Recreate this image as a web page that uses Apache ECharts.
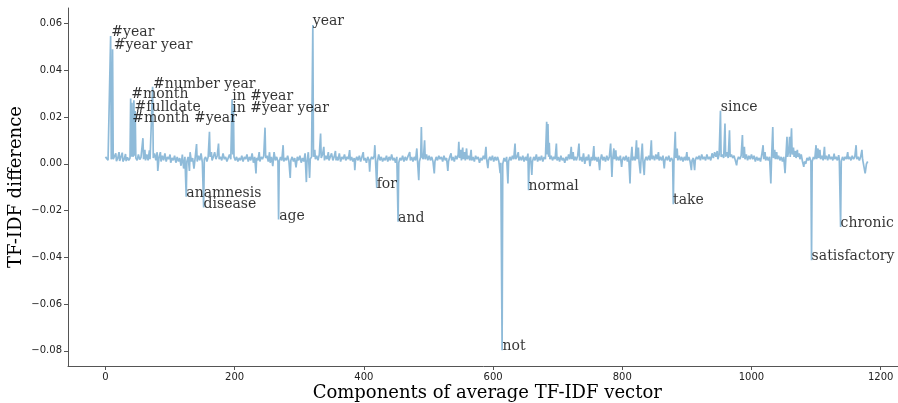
<!DOCTYPE html>
<html>
<head>
<meta charset="utf-8">
<script src="https://cdn.jsdelivr.net/npm/echarts@6/dist/echarts.min.js"></script>
<style>html,body{margin:0;padding:0;background:#fff;}#chart{width:898px;height:403px;}</style>
</head>
<body>
<div id="chart"></div>
<script>
// [component index, TF-IDF difference]
const diffPoints = [
[0,0.0030],[2,0.0022],[4,0.0016],[6,0.0018],[8,0.0547],[9,0.0020],[10,0.0030],[11,0.0490],[12,0.0020],[14,0.0016],[16,0.0045],[17,0.0012],[19,0.0024],[21,0.0050],[22,0.0012],[24,0.0030],[26,0.0048],[27,0.0010],[29,0.0020],[31,0.0042],[32,0.0012],[34,0.0028],[36,0.0015],[38,0.0025],[39,0.0280],[40,0.0030],[41,0.0262],[42,0.0040],[43,0.0030],[44,0.0272],[45,0.0035],[46,0.0226],[47,0.0025],[49,0.0015],[51,0.0040],[53,0.0018],[55,0.0028],[57,0.0020],[58,0.0110],[59,0.0020],[61,0.0060],[62,0.0015],[64,0.0040],[66,0.0015],[68,0.0058],[69,0.0020],[71,0.0028],[73,0.0330],[74,0.0025],[76,0.0045],[78,0.0015],[80,0.0050],[81,-0.0030],[83,0.0030],[85,0.0050],[86,0.0010],[88,0.0035],[90,0.0015],[92,0.0045],[94,0.0010],[96,0.0030],[98,0.0020],[100,0.0040],[101,0.0005],[103,0.0025],[105,0.0015],[107,0.0035],[109,0.0005],[111,0.0030],[113,0.0010],[115,0.0025],[117,-0.0008],[119,0.0040],[121,-0.0020],[123,0.0030],[125,-0.0141],[126,0.0010],[128,0.0030],[130,-0.0030],[131,0.0050],[133,0.0010],[135,0.0025],[137,-0.0020],[139,0.0030],[141,0.0085],[142,0.0010],[144,0.0035],[146,0.0015],[148,0.0045],[150,0.0005],[152,-0.0187],[153,0.0020],[155,0.0030],[157,0.0010],[159,0.0030],[161,0.0137],[162,0.0030],[164,0.0050],[165,0.0015],[167,0.0030],[169,0.0050],[171,0.0020],[173,0.0035],[175,0.0087],[176,0.0020],[178,0.0030],[180,0.0015],[182,0.0045],[184,0.0020],[186,0.0030],[188,0.0010],[190,0.0025],[192,0.0040],[194,0.0020],[196,0.0276],[197,0.0040],[198,0.0255],[199,0.0030],
[201,0.0015],[203,0.0030],[205,0.0010],[207,0.0025],[209,0.0015],[211,0.0035],[213,0.0010],[215,0.0030],[217,0.0020],[219,0.0040],[221,0.0010],[223,0.0030],[225,0.0015],[227,0.0045],[229,0.0005],[231,0.0030],[233,-0.0041],[234,0.0025],[236,0.0015],[238,0.0050],[239,0.0010],[241,0.0030],[243,0.0020],[245,0.0035],[247,0.0155],[248,0.0025],[250,0.0035],[252,0.0010],[254,0.0050],[255,0.0005],[257,0.0030],[259,-0.0010],[261,0.0050],[263,0.0015],[265,0.0030],[267,0.0010],[268,-0.0238],[269,0.0010],[271,0.0030],[273,0.0015],[275,0.0080],[276,0.0010],[278,0.0025],[280,0.0015],[282,0.0035],[284,0.0010],[286,-0.0060],[287,0.0015],[289,0.0030],[291,0.0010],[293,0.0025],[295,-0.0015],[297,0.0030],[299,0.0015],[301,0.0035],[303,0.0005],[305,0.0025],[307,0.0010],[309,0.0045],[311,-0.0078],[312,0.0010],[314,0.0050],[316,-0.0060],[317,0.0020],[319,0.0030],[321,0.0594],[322,0.0030],[324,0.0060],[325,0.0020],[327,0.0035],[329,0.0015],[331,0.0040],[333,0.0130],[334,0.0025],[336,0.0040],[338,0.0073],[339,0.0015],[341,0.0035],[343,0.0020],[345,0.0050],[346,0.0015],[348,0.0030],[350,0.0045],[352,0.0015],[354,0.0030],[356,0.0055],[357,0.0015],[358,0.0030],
[360,0.0015],[362,0.0045],[364,0.0010],[366,0.0030],[368,0.0020],[370,0.0040],[372,0.0015],[374,0.0030],[376,0.0020],[378,0.0059],[379,0.0015],[381,0.0030],[383,0.0010],[385,0.0025],[386,-0.0027],[387,0.0015],[389,0.0030],[391,0.0015],[393,0.0035],[395,0.0010],[397,0.0030],[399,0.0050],[400,0.0015],[402,0.0025],[404,0.0005],[406,0.0030],[408,0.0015],[409,-0.0034],[410,0.0015],[412,0.0030],[414,0.0020],[416,0.0035],[417,0.0080],[418,0.0020],[420,-0.0103],[421,0.0010],[423,0.0040],[425,0.0015],[427,0.0030],[429,0.0010],[431,0.0025],[433,0.0015],[435,0.0035],[437,0.0010],[439,0.0030],[441,0.0015],[443,0.0040],[445,0.0015],[447,0.0025],[449,0.0005],[451,0.0030],[453,-0.0248],[454,0.0005],[456,0.0025],[458,0.0015],[460,0.0035],[462,0.0010],[464,0.0030],[466,0.0015],[468,0.0030],[471,0.0050],[472,0.0015],[474,0.0030],[476,0.0010],[478,0.0030],[480,0.0015],[482,0.0066],[483,0.0015],[485,-0.0070],[486,0.0010],[488,0.0030],[489,0.0158],[490,0.0030],[492,0.0020],[494,0.0101],[495,0.0020],[497,0.0040],[499,0.0015],
[501,0.0035],[503,0.0015],[505,0.0030],[507,0.0010],[509,-0.0041],[510,0.0010],[512,0.0030],[514,0.0015],[516,0.0035],[518,0.0020],[520,0.0030],[522,0.0010],[524,0.0035],[526,0.0015],[528,0.0025],[530,-0.0030],[531,0.0010],[533,0.0030],[535,0.0045],[536,0.0015],[538,0.0030],[540,0.0010],[542,0.0035],[544,0.0020],[546,0.0040],[547,0.0094],[548,0.0025],[550,0.0060],[551,0.0015],[553,0.0070],[554,0.0020],[556,0.0050],[557,0.0015],[559,0.0066],[560,0.0020],[562,0.0035],[564,0.0015],[566,0.0060],[567,0.0015],[569,0.0030],[571,0.0010],[573,0.0035],[575,0.0020],[577,0.0030],[579,0.0005],[581,0.0025],[583,0.0015],[585,0.0035],[587,0.0020],[589,0.0073],[590,0.0020],[592,-0.0018],[593,0.0015],[595,0.0030],[597,0.0015],[599,0.0035],[601,0.0010],[603,0.0030],[605,0.0015],[607,0.0030],[609,0.0010],[611,-0.0040],[612,0.0005],[614,-0.0798],[615,0.0000],[617,0.0025],[619,0.0010],[621,0.0030],[623,-0.0084],[624,0.0010],[626,0.0030],[628,0.0015],[630,0.0035],[632,0.0020],[634,0.0087],[635,0.0020],[637,0.0030],[639,0.0050],[640,0.0015],[642,0.0030],[644,0.0015],[646,0.0035],[648,0.0010],[650,0.0030],[652,0.0015],[654,0.0044],[655,-0.0113],[656,0.0015],[658,0.0030],[660,-0.0047],[661,0.0010],
[663,0.0030],[665,0.0015],[667,0.0040],[669,0.0010],[671,0.0030],[673,0.0015],[675,0.0035],[677,0.0010],[679,0.0030],[681,0.0020],[683,0.0180],[684,0.0040],[685,0.0170],[686,0.0030],[687,0.0090],[688,0.0020],[690,0.0035],[692,0.0015],[694,0.0030],[696,0.0020],[698,0.0087],[699,0.0015],[701,0.0030],[703,0.0010],[705,0.0035],[707,0.0015],[709,0.0025],[711,0.0005],[713,0.0030],[715,0.0015],[717,0.0040],[719,0.0020],[721,0.0073],[722,0.0020],[724,0.0050],[725,0.0015],[727,0.0030],[729,0.0015],[731,0.0035],[733,0.0087],[734,0.0015],[736,0.0030],[738,0.0010],[740,0.0045],[742,0.0000],[744,0.0030],[746,0.0015],[748,0.0040],[750,-0.0010],[752,0.0030],[754,0.0015],[756,0.0076],[757,0.0015],[759,0.0030],[761,0.0010],[763,0.0030],[765,-0.0027],[766,0.0015],[768,0.0040],[770,0.0015],[772,0.0030],[774,0.0010],[776,0.0035],[778,0.0015],[780,0.0030],[782,0.0087],[784,-0.0056],[785,0.0015],[787,0.0066],[788,0.0020],[790,0.0058],[791,0.0015],[793,0.0030],[795,0.0015],[797,0.0035],[799,-0.0013],[800,0.0015],[802,0.0030],[804,0.0015],[806,0.0035],[808,0.0010],[810,0.0030],[812,-0.0084],[813,0.0010],[815,0.0073],[816,0.0015],[818,0.0030],[820,0.0015],[822,0.0101],[823,0.0020],[825,0.0070],[826,0.0010],[828,-0.0041],[829,0.0015],[831,0.0087],[832,0.0015],[834,-0.0048],[835,0.0015],[837,0.0030],[839,0.0015],[841,0.0035],[843,0.0015],[845,0.0101],[846,0.0020],[848,0.0035],[850,0.0015],
[852,0.0040],[854,0.0020],[856,0.0050],[857,0.0015],[859,0.0030],[861,0.0015],[863,0.0035],[865,-0.0020],[866,0.0015],[868,0.0030],[870,0.0015],[872,0.0035],[874,0.0010],[876,0.0025],[878,0.0015],[879,-0.0173],[880,0.0010],[882,0.0137],[883,0.0025],[885,0.0066],[886,0.0015],[888,0.0035],[890,0.0015],[892,0.0030],[894,0.0010],[896,0.0030],[898,0.0015],[900,0.0050],[901,0.0015],[903,0.0030],[905,0.0010],[907,-0.0027],[908,0.0015],[910,0.0025],[912,-0.0027],[913,0.0015],[915,0.0030],[917,0.0020],[919,0.0035],[921,0.0015],[923,0.0040],[925,0.0020],[927,0.0030],[929,0.0015],[931,0.0040],[933,0.0020],[935,0.0030],[937,0.0015],[939,0.0045],[941,0.0025],[943,0.0050],[945,0.0030],[947,0.0055],[948,0.0020],[950,0.0040],[952,0.0227],[953,0.0030],[955,0.0040],[957,0.0025],[959,0.0173],[960,0.0030],[962,0.0050],[964,0.0025],[966,0.0144],[967,0.0030],[969,0.0040],[971,0.0025],[973,0.0035],[975,0.0015],[977,-0.0006],[978,0.0015],[980,0.0030],[982,0.0020],[984,0.0035],[986,0.0123],[987,0.0025],[989,0.0073],[990,0.0020],[992,0.0040],[994,0.0015],[996,0.0035],[998,0.0020],[1000,0.0040],
[1002,0.0020],[1004,0.0035],[1006,0.0010],[1008,0.0030],[1010,0.0015],[1012,0.0025],[1014,0.0010],[1016,0.0040],[1018,0.0080],[1019,0.0020],[1021,0.0050],[1022,0.0015],[1024,0.0030],[1026,0.0015],[1028,0.0030],[1030,-0.0084],[1031,0.0015],[1033,0.0158],[1034,0.0025],[1036,0.0060],[1037,0.0020],[1039,0.0050],[1040,0.0020],[1042,0.0035],[1044,0.0015],[1046,0.0030],[1048,0.0010],[1050,0.0030],[1052,-0.0040],[1053,0.0015],[1055,0.0116],[1056,0.0030],[1058,0.0060],[1059,0.0116],[1060,0.0030],[1062,0.0152],[1063,0.0040],[1065,0.0070],[1066,0.0030],[1068,0.0055],[1069,0.0025],[1071,0.0060],[1072,0.0030],[1074,0.0045],[1075,0.0020],[1077,0.0040],[1079,0.0010],[1081,-0.0013],[1082,0.0010],[1084,0.0000],[1086,0.0025],[1088,0.0015],[1090,0.0030],[1092,0.0010],[1093,-0.0412],[1094,0.0010],[1096,0.0030],[1098,0.0020],[1100,0.0080],[1101,0.0020],[1103,0.0066],[1104,0.0025],[1106,0.0060],[1107,0.0020],[1109,0.0035],[1111,0.0015],[1113,0.0073],[1114,0.0020],[1116,0.0035],[1118,0.0015],[1120,0.0040],[1122,0.0020],[1124,0.0030],[1126,0.0015],[1128,0.0044],[1129,0.0020],[1131,0.0030],[1133,0.0015],[1135,0.0037],[1136,0.0020],[1138,-0.0270],[1139,0.0010],[1141,0.0030],[1143,0.0015],[1145,0.0030],[1147,0.0020],[1149,0.0050],[1150,0.0020],[1152,0.0030],[1154,0.0015],[1156,0.0035],[1158,0.0020],[1160,0.0030],[1162,0.0080],[1163,0.0020],[1165,0.0030],[1167,0.0015],[1169,0.0030],[1171,0.0060],[1172,0.0020],[1174,0.0025],[1176,-0.0041],[1178,0.0000],[1180,0.0010]
];

const labelWords = ['#year','#year year','#month','#fulldate','#month #year','#number year','in #year','in #year year','anamnesis','disease','age','year','for','and','not','normal','take','since','chronic','satisfactory'];
const labelX = [9.9,13.5,40.8,45.9,42.4,74.2,197,197,125.9,152.6,269.7,321.6,420.6,453.7,615.4,655.6,879.4,953.2,1138.7,1093.9];
const labelY = [0.0547,0.0491,0.0281,0.0226,0.0179,0.0327,0.0276,0.0221,-0.0141,-0.0187,-0.0238,0.0594,-0.0103,-0.0248,-0.0798,-0.0113,-0.0173,0.0227,-0.0270,-0.0412];

const xTicks = [0,200,400,600,800,1000,1200];
const yTicks = [-0.08,-0.06,-0.04,-0.02,0.00,0.02,0.04,0.06];

const chart = echarts.init(document.getElementById('chart'), null, {renderer:'canvas'});
const axisColor = '#555';
const fmtY = v => (v < 0 ? '\u2212' : '') + Math.abs(v).toFixed(2);

chart.setOption({
  animation: false,
  backgroundColor: '#fff',
  grid: {left: 68, right: -8.5, top: 8, bottom: 37, containLabel: false, outerBoundsMode: 'none'},
  xAxis: {
    type: 'value', min: -58, max: 1240,
    name: 'Components of average TF-IDF vector',
    nameLocation: 'middle', nameGap: 18, nameMoveOverlap: false,
    nameTextStyle: {fontFamily: 'DejaVu Serif', fontSize: 18, color: '#000'},
    axisLine: {show: true, onZero: false, lineStyle: {color: axisColor, width: 1}},
    axisTick: {show: true, length: 4, customValues: xTicks, lineStyle: {color: axisColor}},
    axisLabel: {customValues: xTicks, margin: 6, fontFamily: 'DejaVu Sans', fontSize: 10, color: '#222', formatter: v => String(Math.round(v))},
    splitLine: {show: false}
  },
  yAxis: {
    type: 'value', min: -0.0865, max: 0.0667,
    name: 'TF-IDF difference',
    nameLocation: 'middle', nameGap: 43, nameMoveOverlap: false,
    nameTextStyle: {fontFamily: 'DejaVu Serif', fontSize: 18, color: '#000'},
    axisLine: {show: true, onZero: false, lineStyle: {color: axisColor, width: 1}},
    axisTick: {show: true, length: 4, customValues: yTicks, lineStyle: {color: axisColor}},
    axisLabel: {customValues: yTicks, margin: 6, fontFamily: 'DejaVu Sans', fontSize: 10, color: '#222', formatter: fmtY},
    splitLine: {show: false}
  },
  series: [
    {
      type: 'line',
      data: diffPoints,
      showSymbol: false,
      symbol: 'none',
      sampling: null,
      lineStyle: {color: '#1f77b4', opacity: 0.5, width: 1.7},
      z: 2
    },
    {
      type: 'scatter',
      symbol: 'circle',
      symbolSize: 1,
      itemStyle: {color: 'rgba(0,0,0,0)'},
      data: labelWords.map((w, i) => ({name: w, value: [labelX[i], labelY[i]]})),
      label: {
        show: true,
        position: [0, 4],
        align: 'left',
        verticalAlign: 'bottom',
        formatter: p => p.name,
        fontFamily: 'DejaVu Serif',
        fontSize: 14,
        color: '#000'
      },
      labelLayout: {hideOverlap: false},
      z: 3
    }
  ]
});
</script>
</body>
</html>
